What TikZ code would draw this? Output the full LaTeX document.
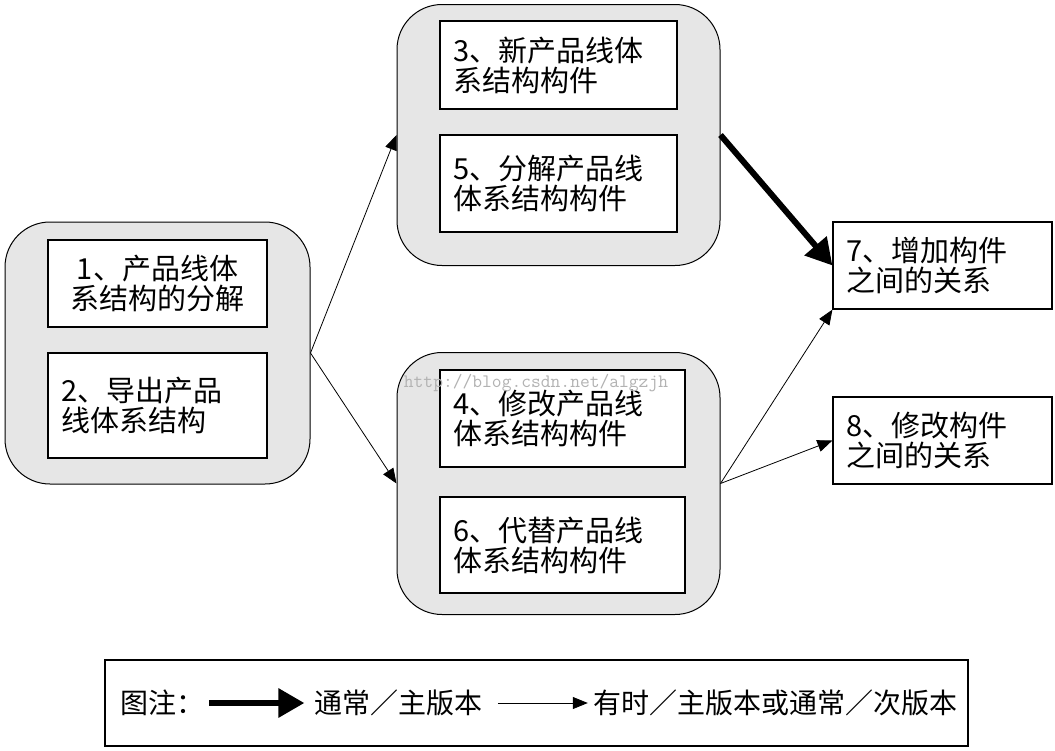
\documentclass[tikz,border=0pt]{standalone}
\usepackage{fontspec}
\setmainfont{Noto Sans CJK SC}
\usetikzlibrary{arrows.meta, positioning}
\definecolor{groupGray}{RGB}{230, 230, 230}
\colorlet{markGray}{black!30}
\newcommand{\boxfont}{\fontsize{29}{30}\selectfont}
\newcommand{\legendfont}{\fontsize{28}{30}\selectfont}
\tikzset{
    group/.style={rectangle, draw, fill=groupGray, line width=1pt, rounded corners=45pt, inner sep=0pt},
    box/.style={rectangle, draw, fill=white, line width=1.2pt, inner xsep=13pt, inner ysep=0pt, font=\boxfont, align=left},
    legendtext/.style={inner sep=5pt, font=\legendfont},
    link/.style={line width=0.8pt, -{Triangle[length=15pt, width=12pt]}},
    mainlink/.style={line width=6pt, -{Triangle[length=26pt, width=28pt]}}
}

\begin{document}
\begin{tikzpicture}[x=1pt, y=-1pt]
    \useasboundingbox (0,0) rectangle (1055,750);

    % Groups
    \node[group, minimum width=305pt, minimum height=262pt] (grpLeft) at (157.5,353) {};
    \node[group, minimum width=323pt, minimum height=261pt] (grpTop) at (558.5,135) {};
    \node[group, minimum width=323pt, minimum height=262pt] (grpBottom) at (558.5,483.5) {};

    % Steps inside the groups
    \node[box, align=center, text width=193pt, minimum height=87pt] (step1) at (157.5,283.5) {1、产品线体\\系结构的分解};
    \node[box, text width=193pt, minimum height=105pt] (step2) at (157.5,405.5) {2、导出产品\\线体系结构};
    \node[box, text width=211pt, minimum height=88pt] (step3) at (558.5,65) {3、新产品线体\\系结构构件};
    \node[box, text width=211pt, minimum height=97pt] (step5) at (558.5,183.5) {5、分解产品线\\体系结构构件};
    \node[box, text width=219pt, minimum height=97pt] (step4) at (562.5,418.5) {4、修改产品线\\体系结构构件};
    \node[box, text width=219pt, minimum height=96pt] (step6) at (562.5,545) {6、代替产品线\\体系结构构件};

    % Relations
    \node[box, text width=193pt, minimum height=87pt] (step7) at (942.5,265.5) {7、增加构件\\之间的关系};
    \node[box, text width=193pt, minimum height=87pt] (step8) at (942.5,440.5) {8、修改构件\\之间的关系};

    % Connectors
    \draw[link] (grpLeft.east) -- (grpTop.west);
    \draw[link] (grpLeft.east) -- (grpBottom.west);
    \draw[mainlink] (grpTop.east) -- (step7.west);
    \draw[link] (grpBottom.east) -- (step7.south west);
    \draw[link] (grpBottom.east) -- (step8.west);

    % Legend
    \node[rectangle, draw, line width=1.2pt, minimum width=863pt, minimum height=86pt] (legend) at (536.5,703) {};
    \node[legendtext, anchor=west] (lgTitle) at (115,703) {图注：};
    \node[legendtext, right=100pt of lgTitle] (lgMain) {通常／主版本};
    \node[legendtext, right=100pt of lgMain] (lgMinor) {有时／主版本或通常／次版本};
    \draw[mainlink, shorten >=5pt] (lgTitle.east) -- (lgMain.west);
    \draw[link, shorten <=10pt] (lgMain.east) -- (lgMinor.west);

    % Watermark
    \node[text=markGray, font=\fontsize{19}{19}\ttfamily] (mark) at (536,383) {http://blog.csdn.net/algzjh};
\end{tikzpicture}
\end{document}
